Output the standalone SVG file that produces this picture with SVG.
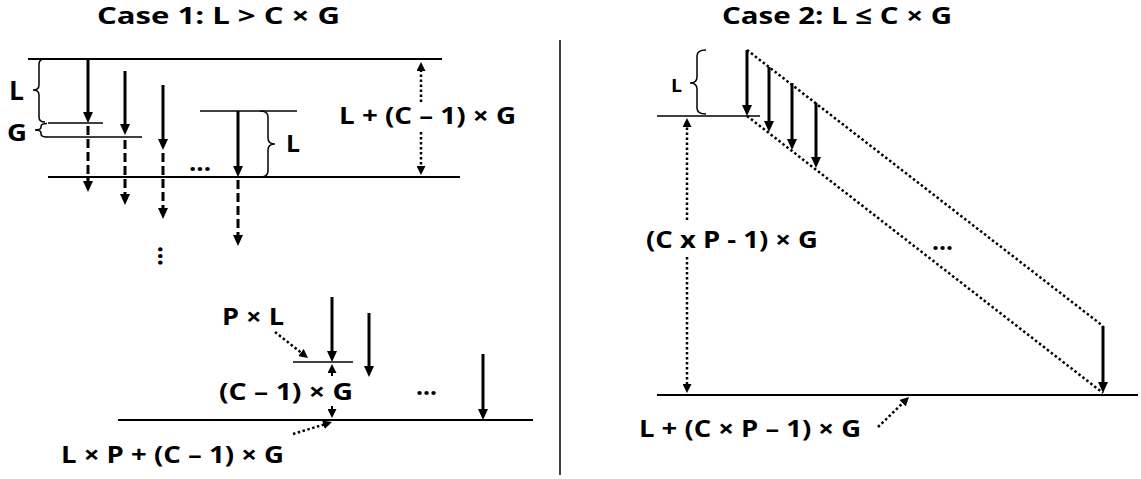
<svg xmlns="http://www.w3.org/2000/svg" width="1141" height="479" viewBox="0 0 1141 479">
<style>
text{font-family:"Open Sans",Lato,"Liberation Sans",sans-serif;font-weight:bold;fill:#000}
.t{font-size:24px}
.lb{font-size:24px}
.bg{font-size:26px}
.sm{font-size:18px}
.ln{stroke:#000;stroke-width:2;fill:none}
.sh{stroke:#000;stroke-width:1.5;fill:none}
.ar{stroke:#000;stroke-width:3;fill:none;marker-end:url(#ah)}
.da{stroke:#000;stroke-width:3;fill:none;stroke-dasharray:9 4;marker-end:url(#ah)}
.dt{stroke:#000;stroke-width:2.5;fill:none;stroke-dasharray:2.5 2.5}
.dta{stroke:#000;stroke-width:2.5;fill:none;stroke-dasharray:2.5 2.5;marker-end:url(#as)}
.tiny{stroke:#000;stroke-width:2;fill:none;marker-end:url(#as)}
.br{stroke:#000;stroke-width:1.5;fill:none}
</style>
<defs>
<marker id="ah" viewBox="0 0 11 10" refX="2" refY="5" markerWidth="11" markerHeight="10" markerUnits="userSpaceOnUse" orient="auto"><path d="M0,0 L11,5 L0,10 z" fill="#000"/></marker>
<marker id="as" viewBox="0 0 9 9" refX="2" refY="4.5" markerWidth="9" markerHeight="9" markerUnits="userSpaceOnUse" orient="auto"><path d="M0,0 L9,4.5 L0,9 z" fill="#000"/></marker>
</defs>

<g id="titles">
<text class="t" x="97" y="24" textLength="243" lengthAdjust="spacingAndGlyphs">Case 1: L &gt; C × G</text>
<text class="t" x="722" y="24" textLength="230" lengthAdjust="spacingAndGlyphs">Case 2: L ≤ C × G</text>
</g>

<g id="divider"><line class="sh" x1="560" y1="40" x2="560" y2="475"/></g>

<g id="case1-top">
<line class="ln" x1="28" y1="59" x2="442" y2="59"/>
<line class="sh" x1="48" y1="123" x2="103" y2="123"/>
<line class="sh" x1="47" y1="137" x2="142" y2="137"/>
<line class="sh" x1="200" y1="111" x2="297" y2="111"/>
<line class="ln" x1="48" y1="177" x2="460" y2="177"/>
<path class="br" d="M45,59 Q39,59 39,64 L39,85 Q39,90 33,90 Q39,90 39,95 L39,117 Q39,122 45,122"/>
<path class="br" d="M47,123.5 Q41,123.5 41,126.5 L41,127 Q41,130 35,130 Q41,130 41,133 L41,134 Q41,137 47,137"/>
<path class="br" d="M260,111 Q268,111 268,117 L268,138 Q268,144 275,144 Q268,144 268,150 L268,171 Q268,177 260,177"/>
<text class="bg" x="9" y="100" textLength="15" lengthAdjust="spacingAndGlyphs">L</text>
<text class="lb" x="7" y="141" textLength="20" lengthAdjust="spacingAndGlyphs">G</text>
<text class="lb" x="286" y="152" textLength="14" lengthAdjust="spacingAndGlyphs">L</text>
<text class="lb" x="189" y="171" textLength="22" lengthAdjust="spacingAndGlyphs">...</text>
<text class="lb" x="339" y="124" textLength="177" lengthAdjust="spacingAndGlyphs">L + (C – 1) × G</text>
</g>

<g id="case1-bottom">
<line class="sh" x1="293" y1="362" x2="353" y2="362"/>
<line class="ln" x1="118" y1="420" x2="533" y2="420"/>
<text class="lb" x="222" y="325" textLength="62" lengthAdjust="spacingAndGlyphs">P × L</text>
<text class="lb" x="219" y="400" textLength="134" lengthAdjust="spacingAndGlyphs">(C – 1) × G</text>
<text class="lb" x="61" y="463" textLength="223" lengthAdjust="spacingAndGlyphs">L × P + (C – 1) × G</text>
<text class="lb" x="416" y="395" textLength="21" lengthAdjust="spacingAndGlyphs">...</text>
<text class="bg" transform="translate(158,246) rotate(90)" x="0" y="0" textLength="20" lengthAdjust="spacingAndGlyphs">...</text>
</g>

<g id="case2">
<line class="sh" x1="657" y1="116" x2="760" y2="116"/>
<line class="ln" x1="657" y1="395" x2="1138" y2="395"/>
<path class="br" d="M706,50 Q697,50 697,56 L697,77 Q697,83 690,83 Q697,83 697,89 L697,108 Q697,114 706,114"/>
<text class="sm" x="671" y="92" textLength="11" lengthAdjust="spacingAndGlyphs">L</text>
<text class="lb" x="646" y="248" textLength="172" lengthAdjust="spacingAndGlyphs">(C x P - 1) × G</text>
<text class="lb" x="639" y="437" textLength="222" lengthAdjust="spacingAndGlyphs">L + (C × P – 1) × G</text>
<text class="lb" x="932" y="250" textLength="21" lengthAdjust="spacingAndGlyphs">...</text>
</g>

<g id="connectors">
<line class="ar" x1="88" y1="59" x2="88" y2="114"/>
<line class="ar" x1="125" y1="71" x2="125" y2="126"/>
<line class="ar" x1="163" y1="85" x2="163" y2="141"/>
<line class="ar" x1="238" y1="111" x2="238" y2="168"/>
<line class="ar" x1="332" y1="297" x2="332" y2="353"/>
<line class="ar" x1="369" y1="313" x2="369" y2="368"/>
<line class="ar" x1="483" y1="354" x2="483" y2="411"/>
<line class="da" x1="88" y1="126" x2="88" y2="183"/>
<line class="da" x1="125" y1="140" x2="125" y2="196"/>
<line class="da" x1="163" y1="153" x2="163" y2="210"/>
<line class="da" x1="238" y1="180" x2="238" y2="237"/>
<line class="dta" x1="421" y1="102" x2="421" y2="69"/>
<line class="dta" x1="421" y1="132" x2="421" y2="168"/>
<line class="tiny" x1="332" y1="376" x2="332" y2="371"/>
<line class="tiny" x1="332" y1="406" x2="332" y2="411"/>
<line class="dta" x1="275" y1="332" x2="302.5" y2="353.7"/>
<line class="dta" x1="293" y1="434" x2="325.3" y2="424.1"/>
<line class="ar" x1="747" y1="50" x2="747" y2="107"/>
<line class="ar" x1="769" y1="67" x2="769" y2="123"/>
<line class="ar" x1="792" y1="83" x2="792" y2="141"/>
<line class="ar" x1="816" y1="103" x2="816" y2="159"/>
<line class="ar" x1="1103" y1="326" x2="1103" y2="384"/>
<line class="dt" x1="747" y1="50" x2="1103" y2="326"/>
<line class="dt" x1="747" y1="116" x2="1103" y2="393"/>
<line class="dta" x1="687" y1="220" x2="687" y2="125"/>
<line class="dta" x1="687" y1="257" x2="687" y2="386"/>
<line class="dta" x1="878" y1="427" x2="904" y2="401.9"/>
</g>
</svg>
